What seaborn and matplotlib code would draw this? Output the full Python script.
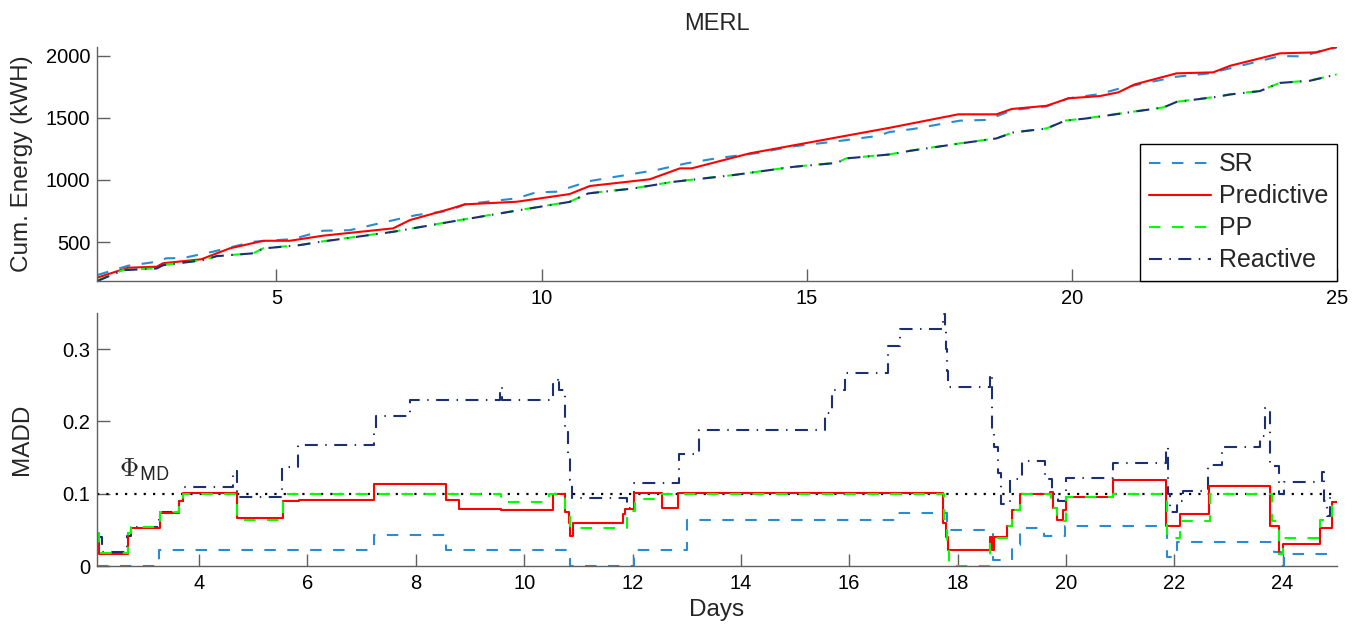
import numpy as np
import pandas as pd
import seaborn as sns
import matplotlib
matplotlib.use('Agg')
import matplotlib.pyplot as plt

## Cumulative energy (top panel)
day_pred = [1.62, 2.2, 2.74, 2.86, 3.58, 4.12, 4.75, 5.25, 5.88, 7.2, 7.52, 8.27, 8.55, 9.53,
            10.53, 10.91, 12.04, 12.61, 12.83, 13.93, 16.57, 17.86, 18.58, 18.87, 19.53, 19.94,
            20.53, 20.88, 21.19, 21.98, 22.67, 22.99, 23.93, 24.62, 25.0]
energy_pred = [213, 293, 301, 329, 361, 449, 510, 510, 551, 610, 677, 766, 803, 824,
               886, 951, 1005, 1093, 1093, 1214, 1420, 1528, 1528, 1571, 1597, 1657,
               1675, 1705, 1769, 1858, 1866, 1919, 2019, 2027, 2072]

day_sr = [1.62, 2.2, 2.74, 2.92, 3.24, 3.8, 4.56, 5.31, 5.88, 6.38, 7.07, 7.64, 8.27, 8.55,
          9.53, 9.9, 10.28, 10.91, 12.17, 12.74, 13.3, 14.12, 14.68, 15.5, 16.32, 16.57, 17.01,
          17.89, 18.4, 18.9, 19.53, 19.94, 20.53, 20.91, 21.98, 22.6, 23.93, 24.37, 24.69, 25.0]
energy_sr = [234, 309, 341, 369, 371, 422, 502, 524, 591, 595, 663, 717, 752, 803,
             852, 900, 905, 991, 1080, 1134, 1174, 1219, 1267, 1307, 1353, 1386, 1410,
             1477, 1483, 1563, 1593, 1657, 1691, 1737, 1831, 1858, 1997, 1995, 2038, 2065]

day_pp = [1.62, 2.11, 2.74, 2.86, 3.62, 3.87, 4.56, 4.75, 5.44, 5.82, 7.2, 8.27, 9.59,
          10.53, 10.88, 11.73, 12.48, 13.62, 14.75, 15.57, 15.75, 16.57, 16.95, 17.89,
          18.58, 18.9, 19.53, 19.87, 20.28, 21.73, 21.98, 22.74, 22.99, 23.55, 23.93, 24.49, 25.0]
energy_pp = [190, 275, 288, 315, 355, 387, 409, 449, 476, 502, 583, 663, 758,
             824, 892, 932, 985, 1039, 1106, 1138, 1174, 1206, 1235, 1294,
             1335, 1383, 1415, 1477, 1496, 1584, 1629, 1670, 1689, 1716, 1782, 1799, 1850]

day_reac = day_pp
energy_reac = [186, 273, 287, 313, 354, 386, 409, 448, 475, 501, 582, 662, 757,
               823, 891, 931, 984, 1039, 1105, 1137, 1173, 1205, 1234, 1293,
               1334, 1382, 1414, 1476, 1495, 1583, 1628, 1669, 1688, 1715, 1781, 1798, 1849]

## MADD (bottom panel), step values start at each day
t_pred = [2.12, 2.16, 2.68, 2.75, 3.27, 3.62, 3.7, 4.7, 5.54, 5.84, 7.22, 8.55, 8.79, 9.57,
          10.54, 10.76, 10.82, 10.84, 10.9, 11.82, 11.87, 12.03, 12.54, 12.84, 17.74, 17.78,
          17.82, 18.6, 18.63, 18.68, 18.91, 19.0, 19.15, 19.71, 19.77, 19.83, 19.94, 20.0,
          20.87, 21.85, 22.1, 22.65, 23.76, 23.94, 24.0, 24.7, 24.91, 25.0]
madd_pred = [0.035, 0.017, 0.045, 0.052, 0.074, 0.09, 0.101, 0.066, 0.0895, 0.092, 0.114, 0.092,
             0.079, 0.077, 0.1, 0.075, 0.06, 0.042, 0.059, 0.072, 0.079, 0.101, 0.08, 0.101,
             0.06, 0.04, 0.0217, 0.04, 0.022, 0.04, 0.055, 0.077, 0.1, 0.102, 0.08, 0.063,
             0.077, 0.096, 0.1185, 0.055, 0.0715, 0.111, 0.055, 0.017, 0.031, 0.052, 0.0885, 0.0885]

t_pp = [2.12, 2.16, 2.68, 2.75, 3.27, 3.62, 3.7, 4.7, 5.55, 9.57, 10.45, 10.76, 10.85, 11.9,
        12.05, 12.54, 17.75, 17.8, 17.84, 18.6, 18.91, 19.0, 19.15, 19.73, 19.83, 20.0, 20.87,
        21.87, 22.1, 22.66, 23.8, 23.93, 24.0, 24.7, 24.91, 25.0]
madd_pp = [0.045, 0.0185, 0.045, 0.054, 0.075, 0.09, 0.1, 0.064, 0.1, 0.088, 0.1, 0.075, 0.052,
           0.076, 0.093, 0.1, 0.065, 0.03, 0.0, 0.039, 0.055, 0.077, 0.1, 0.08, 0.062, 0.096,
           0.1, 0.039, 0.062, 0.1, 0.062, 0.017, 0.039, 0.063, 0.086, 0.086]

t_sr = [2.12, 3.25, 7.22, 8.55, 10.84, 12.03, 13.0, 16.91, 17.8, 18.66, 19.0, 19.15, 19.59,
        19.98, 21.87, 22.05, 23.84, 23.98, 24.02, 25.0]
madd_sr = [0.0, 0.0217, 0.0434, 0.0225, 0.0, 0.0217, 0.0632, 0.0738, 0.05, 0.009, 0.0296,
           0.052, 0.042, 0.0553, 0.0125, 0.033, 0.019, 0.0, 0.016, 0.016]

t_reac = [2.12, 2.2, 2.67, 2.75, 3.25, 3.62, 3.71, 4.63, 4.7, 5.53, 5.83, 7.22, 7.27, 7.9,
          9.56, 9.6, 10.54, 10.62, 10.65, 10.76, 10.8, 10.84, 10.88, 11.9, 12.03, 12.85, 13.22,
          15.56, 15.68, 15.93, 16.72, 16.94, 17.74, 17.77, 17.79, 17.81, 17.83, 18.6, 18.63,
          18.68, 18.75, 18.8, 18.97, 19.19, 19.62, 19.75, 19.85, 20.0, 20.87, 21.85, 21.88,
          21.92, 22.05, 22.17, 22.63, 22.88, 23.59, 23.68, 23.77, 23.83, 23.93, 24.03, 24.73,
          24.76, 24.82, 24.88, 25.0]
madd_reac = [0.04, 0.019, 0.042, 0.054, 0.075, 0.09, 0.109, 0.132, 0.095, 0.137, 0.167, 0.185,
             0.208, 0.23, 0.248, 0.23, 0.252, 0.261, 0.243, 0.19, 0.15, 0.119, 0.0946, 0.08,
             0.115, 0.155, 0.188, 0.211, 0.244, 0.267, 0.305, 0.328, 0.349, 0.328, 0.3, 0.27,
             0.248, 0.266, 0.183, 0.165, 0.128, 0.086, 0.12, 0.145, 0.12, 0.1, 0.09, 0.122,
             0.143, 0.165, 0.1, 0.075, 0.09, 0.104, 0.14, 0.165, 0.18, 0.219, 0.142, 0.139,
             0.1, 0.116, 0.13, 0.09, 0.069, 0.095, 0.095]

phi_md = 0.1

c_sr = '#2a8ad2'
c_pred = '#ff0000'
c_pp = '#00ff00'
c_reac = '#1b2f72'
ls_dash = (0, (5.5, 5.5))
ls_dashdot = (0, (6.2, 3.6, 0.7, 3.6))

sns.set_style('white')
plt.rcParams['font.family'] = ['Liberation Sans', 'DejaVu Sans']
plt.rcParams['mathtext.fontset'] = 'cm'

fig = plt.figure(figsize=(13.63, 6.26), dpi=100)
ax1 = fig.add_axes([0.0714, 0.5511, 0.9093, 0.3738])
ax2 = fig.add_axes([0.0714, 0.0958, 0.9093, 0.4042])

lw = 1.5
## top panel
sns.lineplot(x=day_sr, y=energy_sr, ax=ax1, color=c_sr, linestyle=ls_dash, lw=lw,
             estimator=None, sort=False, label='SR')
sns.lineplot(x=day_pred, y=energy_pred, ax=ax1, color=c_pred, lw=lw,
             estimator=None, sort=False, label='Predictive')
sns.lineplot(x=day_pp, y=energy_pp, ax=ax1, color=c_pp, linestyle=ls_dash, lw=lw,
             estimator=None, sort=False, label='PP')
sns.lineplot(x=day_reac, y=energy_reac, ax=ax1, color=c_reac, linestyle=ls_dashdot, lw=lw,
             estimator=None, sort=False, label='Reactive')

## bottom panel
sns.lineplot(x=t_sr, y=madd_sr, ax=ax2, color=c_sr, linestyle=ls_dash, lw=lw,
             estimator=None, sort=False, drawstyle='steps-post')
sns.lineplot(x=t_reac, y=madd_reac, ax=ax2, color=c_reac, linestyle=ls_dashdot, lw=lw,
             estimator=None, sort=False, drawstyle='steps-post')
sns.lineplot(x=t_pred, y=madd_pred, ax=ax2, color=c_pred, lw=lw,
             estimator=None, sort=False, drawstyle='steps-post')
sns.lineplot(x=t_pp, y=madd_pp, ax=ax2, color=c_pp, linestyle=ls_dash, lw=lw,
             estimator=None, sort=False, drawstyle='steps-post')
ax2.axhline(phi_md, color='black', lw=1.6, linestyle=(0, (1, 3.2)), zorder=1)
ax2.text(2.52, 0.124, r'$\Phi_{\mathsf{MD}}$', fontsize=19, va='baseline', ha='left')

ax1.set_xlim(1.62, 25)
ax1.set_ylim(186, 2070)
ax1.set_xticks([5, 10, 15, 20, 25])
ax1.set_yticks([500, 1000, 1500, 2000])
ax1.set_title('MERL', fontsize=17, pad=12)
ax1.set_ylabel('Cum. Energy (kWH)', fontsize=17.5)

ax2.set_xlim(2.12, 25)
ax2.set_ylim(0, 0.35)
ax2.set_xticks(range(4, 25, 2))
ax2.set_yticks([0, 0.1, 0.2, 0.3])
ax2.set_yticklabels(['0', '0.1', '0.2', '0.3'])
ax2.set_xlabel('Days', fontsize=17.5)
ax2.set_ylabel('MADD', fontsize=17.5)

for ax in (ax1, ax2):
    sns.despine(ax=ax)
    for s in ('left', 'bottom'):
        ax.spines[s].set_color('#606060')
        ax.spines[s].set_linewidth(1.0)
    ax.tick_params(direction='in', length=9, width=1, color='#606060',
                   labelsize=14.5, labelcolor='black', left=True, bottom=True)
    ax.tick_params(axis='y', pad=5)
    ax.tick_params(axis='x', pad=6)
    ax.yaxis.set_label_coords(-0.052, 0.5)

leg = ax1.legend(loc='lower right', fontsize=18, frameon=True, fancybox=False,
                 borderaxespad=0, handlelength=2.5, handletextpad=0.3,
                 labelspacing=0.32, borderpad=0.35)
leg.get_frame().set_edgecolor('black')
leg.get_frame().set_linewidth(1.0)
leg.get_frame().set_alpha(1)

plt.savefig('out.png', dpi=100)
